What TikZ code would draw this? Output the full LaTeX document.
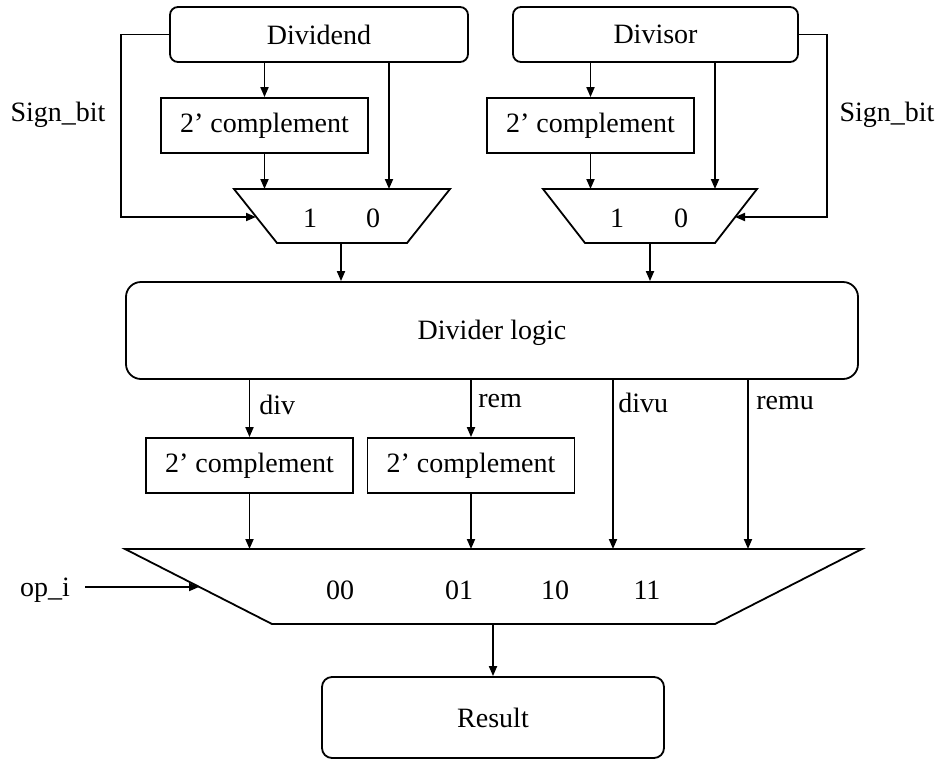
\documentclass[tikz,border=0pt]{standalone}
\usepackage{fontspec}
\setmainfont{Liberation Serif}
\usetikzlibrary{arrows.meta}
\begin{document}
\begin{tikzpicture}[x=0.5pt,y=-0.5pt,
  every node/.style={font=\fontsize{14}{16}\selectfont, inner sep=0pt},
  wire/.style={line width=0.9pt},
  arr/.style={wire,-{Triangle[length=5pt,width=4pt]}},
  rbox/.style={draw, line width=0.9pt, rounded corners=4pt},
  sbox/.style={draw, line width=0.9pt, minimum width=103.5pt, minimum height=27.5pt},
  mux/.style={draw, line width=0.9pt, line join=miter}
]
\useasboundingbox (0,0) rectangle (941,760);

% top boxes
\node[rbox, minimum width=149pt, minimum height=27.5pt] (dvd) at (319,34.5) {Dividend};
\node[rbox, minimum width=142.5pt, minimum height=27.5pt] (dvs) at (655.5,34.5) {Divisor};
\node[sbox] (c1) at (264.5,125.5) {2’ complement};
\node[sbox] (c2) at (590.5,125.5) {2’ complement};

% mux 1
\coordinate (m1tl) at (234,189); \coordinate (m1tr) at (450,189);
\coordinate (m1br) at (407,243); \coordinate (m1bl) at (277,243);
\draw[mux] (m1tl) -- (m1tr) -- (m1br) -- (m1bl) -- cycle;
\coordinate (m1out) at (341,243);
\coordinate (m1sel) at (256,217);
\node (m1a) at (310,218) {1};
\node (m1b) at (373,218) {0};

% mux 2
\coordinate (m2tl) at (543,189); \coordinate (m2tr) at (757,189);
\coordinate (m2br) at (715,243); \coordinate (m2bl) at (585,243);
\draw[mux] (m2tl) -- (m2tr) -- (m2br) -- (m2bl) -- cycle;
\coordinate (m2out) at (650,243);
\coordinate (m2sel) at (735,217);
\node (m2a) at (617,218) {1};
\node (m2b) at (681,218) {0};

% divider
\node[rbox, rounded corners=7.5pt, minimum width=366pt, minimum height=48.5pt] (dl) at (492,330.5) {};
\node (dltxt) at (492,333) {Divider logic};

% lower complements
\node[sbox] (c3) at (249.5,465.5) {2’ complement};
\node[sbox] (c4) at (471,465.5) {2’ complement};

% big mux
\coordinate (btl) at (125,549); \coordinate (btr) at (862,549);
\coordinate (bbr) at (715,624); \coordinate (bbl) at (272,624);
\draw[mux] (btl) -- (btr) -- (bbr) -- (bbl) -- cycle;
\coordinate (bout) at (493,624);
\coordinate (bsel) at (199,587);
\node (s00) at (340,590) {00};
\node (s01) at (459,590) {01};
\node (s10) at (555,590) {10};
\node (s11) at (647,590) {11};

% result
\node[rbox, rounded corners=5pt, minimum width=171pt, minimum height=40.5pt] (res) at (493,717.5) {Result};

% labels
\node (sb1) at (58,115) {Sign\_bit};
\node (sb2) at (887,115) {Sign\_bit};
\node (opi) at (45,590) {op\_i};
\coordinate (opst) at (85,587);
\node[anchor=west] (ldiv) at (259,405) {div};
\node[anchor=west] (lrem) at (478,401) {rem};
\node[anchor=west] (ldivu) at (618,403) {divu};
\node[anchor=west] (lremu) at (756,403) {remu};

% connectors top left
\draw[arr] (dvd.south -| c1.north) -- (c1.north);
\draw[arr] (c1.south) -- (c1.south |- m1tl);
\draw[arr] (dvd.south -| 389,0) -- (389,189);
\draw[arr] (dvd.west) -- (121,34.5) |- (m1sel);
\draw[arr] (m1out) -- (m1out |- dl.north);

% connectors top right
\draw[arr] (dvs.south -| c2.north) -- (c2.north);
\draw[arr] (c2.south) -- (c2.south |- m2tl);
\draw[arr] (dvs.south -| 715,0) -- (715,189);
\draw[arr] (dvs.east) -- (827,34.5) |- (m2sel);
\draw[arr] (m2out) -- (m2out |- dl.north);

% divider outputs
\draw[arr] (dl.south -| c3.north) -- (c3.north);
\draw[arr] (dl.south -| c4.north) -- (c4.north);
\draw[arr] (c3.south) -- (c3.south |- btl);
\draw[arr] (c4.south) -- (c4.south |- btl);
\draw[arr] (dl.south -| 613,0) -- (613,549);
\draw[arr] (dl.south -| 748,0) -- (748,549);

% op_i and result
\draw[arr] (opst) -- (bsel);
\draw[arr] (bout) -- (res.north);
\end{tikzpicture}
\end{document}
